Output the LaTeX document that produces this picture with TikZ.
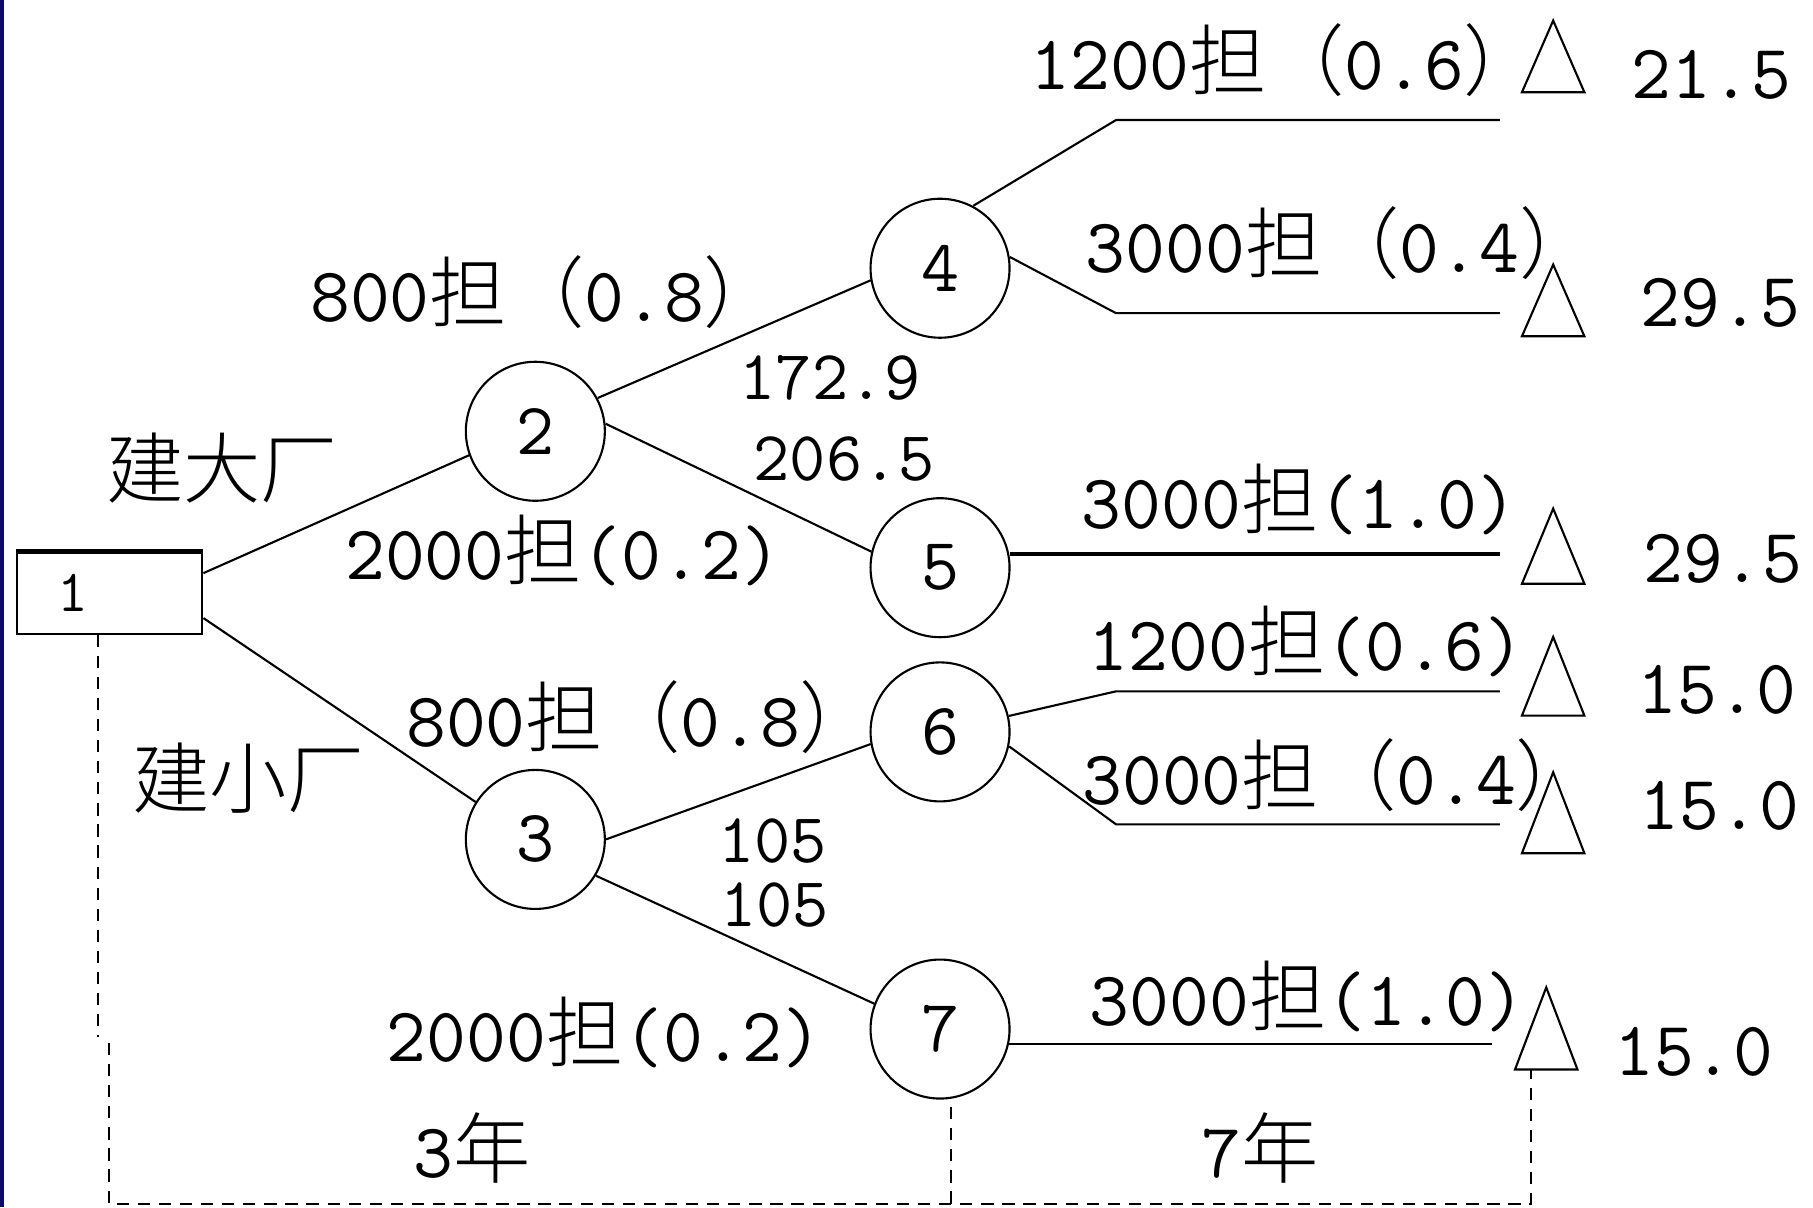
\documentclass[tikz,border=0pt]{standalone}
\usepackage{fontspec}
\newfontfamily\cjk{Noto Sans CJK SC Light}
\usetikzlibrary{calc}
\definecolor{slidenavy}{RGB}{12,12,112}
\newcommand{\dan}{{\cjk 担}}
\newcommand{\lpar}{{\cjk （}}
\newcommand{\rpar}{{\cjk ）}}

\begin{document}
\begin{tikzpicture}[scale=1.1563,
		chance/.style={draw,circle,line width=0.6pt,minimum size=1.39cm,inner sep=0pt,font=\ttfamily\fontsize{21}{24}\selectfont},
		decision/.style={draw,rectangle,line width=0.6pt,minimum width=1.85cm,minimum height=0.81cm,inner sep=0pt,text width=1.04cm,align=left,font=\ttfamily\fontsize{17}{19}\selectfont},
		branch/.style={line width=0.6pt},
		span/.style={line width=0.6pt,dash pattern=on 3.5pt off 2.5pt},
		txt/.style={inner sep=0pt,font=\ttfamily\fontsize{22}{26}\selectfont},
		num/.style={inner sep=0pt,font=\ttfamily\fontsize{20}{24}\selectfont}]
			\useasboundingbox (0,0) rectangle (15.68,10.44);
			\fill[slidenavy] (0,0) rectangle (0.035,10.44);

			\node[decision] (n1) at (0.95,5.31) {1};
			\draw[line width=1.4pt] (n1.north west) -- (n1.north east);
			\node[chance] (c2) at (4.63,6.71) {2};
			\node[chance] (c3) at (4.63,3.18) {3};
			\node[chance] (c4) at (8.13,8.12) {4};
			\node[chance] (c5) at (8.13,5.53) {5};
			\node[chance] (c6) at (8.13,4.11) {6};
			\node[chance] (c7) at (8.13,1.54) {7};

			\coordinate (k4a) at (9.65,9.40);
			\coordinate (k4b) at (9.65,7.73);
			\coordinate (k6a) at (9.65,4.46);
			\coordinate (k6b) at (9.65,3.31);
			\coordinate (e4a) at (12.97,9.40);
			\coordinate (e4b) at (12.97,7.73);
			\coordinate (e5) at (12.97,5.65);
			\coordinate (e6a) at (12.97,4.46);
			\coordinate (e6b) at (12.97,3.31);
			\coordinate (e7) at (12.90,1.41);

			\draw[branch] (n1.12) -- (c2.200);
			\draw[branch] (n1.-15) -- (c3.148);
			\draw[branch] (c2.28) -- (c4.190);
			\draw[branch] (c2.6) -- (c5.167);
			\draw[branch] (c3.0) -- (c6.190);
			\draw[branch] (c3.-31) -- (c7.159);
			\draw[branch] (c4.62) -- (k4a) -- (e4a);
			\draw[branch] (c4.9) -- (k4b) -- (e4b);
			\draw[line width=1.2pt] (c5.11) -- (c5.11 -| e5);
			\draw[branch] (c6.13) -- (k6a) -- (e6a);
			\draw[branch] (c6.-12) -- (k6b) -- (e6b);
			\draw[branch] (c7.-12) -- (c7.-12 -| e7);

			\coordinate (t1) at (13.43,10.26);
			\coordinate (t2) at (13.43,8.15);
			\coordinate (t3) at (13.43,6.04);
			\coordinate (t4) at (13.43,4.93);
			\coordinate (t5) at (13.43,3.76);
			\coordinate (t6) at (13.37,1.90);
			\foreach \t/\h in {t1/0.62,t2/0.62,t3/0.65,t4/0.68,t5/0.70,t6/0.71}
				\draw[branch] (\t) -- ++(-0.27,-\h) -- ++(0.54,0) -- cycle;

			\coordinate (b1) at (0.85,1.47);
			\coordinate (b2) at (0.94,1.42);
			\coordinate (b3) at (0.94,0.03);
			\coordinate (b4) at (8.22,0.03);
			\coordinate (b5) at (13.24,0.03);
			\coordinate (t6b) at (13.24,1.19);
			\draw[span] (n1.south -| b1) -- (b1);
			\draw[span] (b2) -- (b3) -- (b5) -- (t6b);
			\draw[span] (b4) -- (c7.south -| b4);

			\node[txt] (p4a) at (11.12,9.92) {1200\dan\lpar0.6\rpar};
			\node[txt] (p4b) at (11.60,8.34) {3000\dan\lpar0.4\rpar};
			\node[txt] (p5) at (11.24,6.12) {3000\dan(1.0)};
			\node[txt] (p6a) at (11.30,4.89) {1200\dan(0.6)};
			\node[txt] (p6b) at (11.57,3.74) {3000\dan\lpar0.4\rpar};
			\node[txt] (p7) at (11.31,1.82) {3000\dan(1.0)};
			\node[txt] (p2a) at (4.72,7.91) {800\dan\lpar0.8\rpar};
			\node[txt] (p2b) at (4.87,5.68) {2000\dan(0.2)};
			\node[txt] (p3a) at (5.55,4.24) {800\dan\lpar0.8\rpar};
			\node[txt] (p3b) at (5.23,1.51) {2000\dan(0.2)};
			\node[txt] (big) at (1.92,6.39) {\cjk 建大厂};
			\node[txt] (small) at (2.15,3.71) {\cjk 建小厂};
			\node[num] (v2a) at (7.18,7.17) {172.9};
			\node[num] (v2b) at (7.30,6.47) {206.5};
			\node[num] (v3a) at (6.68,3.17) {105};
			\node[num] (v3b) at (6.70,2.61) {105};
			\node[txt] (y3) at (4.08,0.51) {3{\cjk 年}};
			\node[txt] (y7) at (10.90,0.51) {7{\cjk 年}};
			\node[txt] (r1) at (14.80,9.79) {21.5};
			\node[txt] (r2) at (14.88,7.82) {29.5};
			\node[txt] (r3) at (14.90,5.61) {29.5};
			\node[txt] (r4) at (14.85,4.47) {15.0};
			\node[txt] (r5) at (14.87,3.47) {15.0};
			\node[txt] (r6) at (14.65,1.34) {15.0};
\end{tikzpicture}
\end{document}
